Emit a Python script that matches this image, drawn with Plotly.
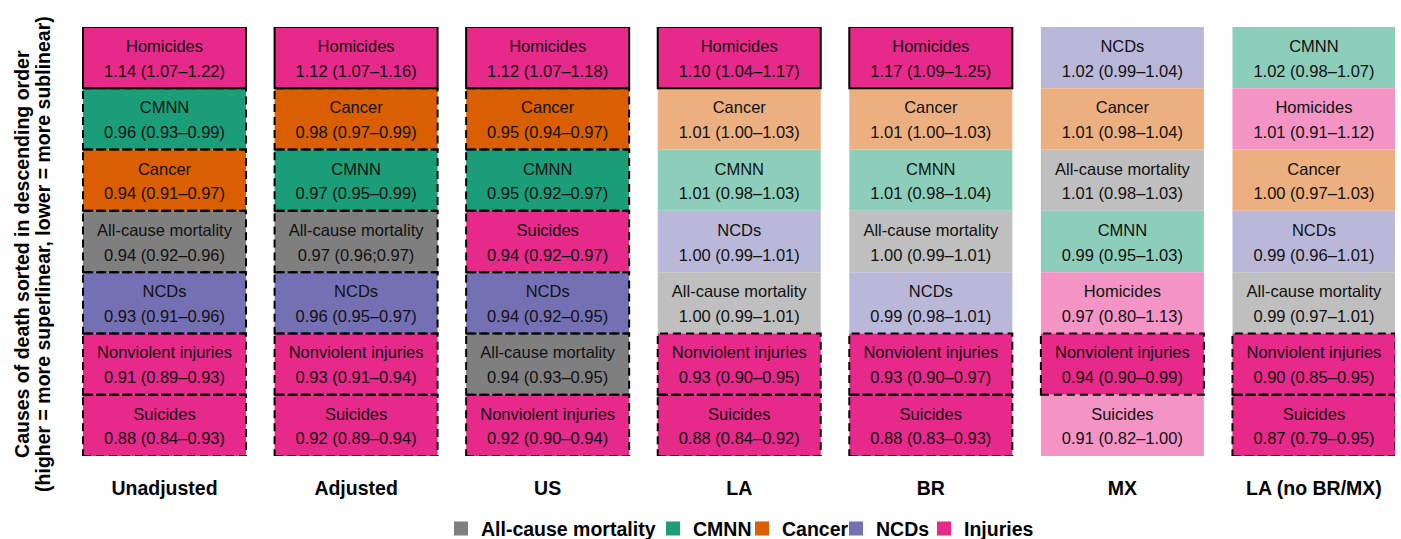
import plotly.graph_objects as go

# ---------------- data ----------------
columns = ["Unadjusted", "Adjusted", "US", "LA", "BR", "MX", "LA (no BR/MX)"]

unadjusted_causes = ["Homicides", "CMNN", "Cancer", "All-cause mortality", "NCDs", "Nonviolent injuries", "Suicides"]
unadjusted_est = [1.14, 0.96, 0.94, 0.94, 0.93, 0.91, 0.88]
unadjusted_lo = [1.07, 0.93, 0.91, 0.92, 0.91, 0.89, 0.84]
unadjusted_hi = [1.22, 0.99, 0.97, 0.96, 0.96, 0.93, 0.93]

adjusted_causes = ["Homicides", "Cancer", "CMNN", "All-cause mortality", "NCDs", "Nonviolent injuries", "Suicides"]
adjusted_est = [1.12, 0.98, 0.97, 0.97, 0.96, 0.93, 0.92]
adjusted_lo = [1.07, 0.97, 0.95, 0.96, 0.95, 0.91, 0.89]
adjusted_hi = [1.16, 0.99, 0.99, 0.97, 0.97, 0.94, 0.94]

us_causes = ["Homicides", "Cancer", "CMNN", "Suicides", "NCDs", "All-cause mortality", "Nonviolent injuries"]
us_est = [1.12, 0.95, 0.95, 0.94, 0.94, 0.94, 0.92]
us_lo = [1.07, 0.94, 0.92, 0.92, 0.92, 0.93, 0.90]
us_hi = [1.18, 0.97, 0.97, 0.97, 0.95, 0.95, 0.94]

la_causes = ["Homicides", "Cancer", "CMNN", "NCDs", "All-cause mortality", "Nonviolent injuries", "Suicides"]
la_est = [1.10, 1.01, 1.01, 1.00, 1.00, 0.93, 0.88]
la_lo = [1.04, 1.00, 0.98, 0.99, 0.99, 0.90, 0.84]
la_hi = [1.17, 1.03, 1.03, 1.01, 1.01, 0.95, 0.92]

br_causes = ["Homicides", "Cancer", "CMNN", "All-cause mortality", "NCDs", "Nonviolent injuries", "Suicides"]
br_est = [1.17, 1.01, 1.01, 1.00, 0.99, 0.93, 0.88]
br_lo = [1.09, 1.00, 0.98, 0.99, 0.98, 0.90, 0.83]
br_hi = [1.25, 1.03, 1.04, 1.01, 1.01, 0.97, 0.93]

mx_causes = ["NCDs", "Cancer", "All-cause mortality", "CMNN", "Homicides", "Nonviolent injuries", "Suicides"]
mx_est = [1.02, 1.01, 1.01, 0.99, 0.97, 0.94, 0.91]
mx_lo = [0.99, 0.98, 0.98, 0.95, 0.80, 0.90, 0.82]
mx_hi = [1.04, 1.04, 1.03, 1.03, 1.13, 0.99, 1.00]

lanobrmx_causes = ["CMNN", "Homicides", "Cancer", "NCDs", "All-cause mortality", "Nonviolent injuries", "Suicides"]
lanobrmx_est = [1.02, 1.01, 1.00, 0.99, 0.99, 0.90, 0.87]
lanobrmx_lo = [0.98, 0.91, 0.97, 0.96, 0.97, 0.85, 0.79]
lanobrmx_hi = [1.07, 1.12, 1.03, 1.01, 1.01, 0.95, 0.95]

# separator used in the CI label (the source has one ";" typo)
ci_sep_overrides = {("Adjusted", "All-cause mortality"): ";"}

cause_group = {
    "All-cause mortality": "All-cause mortality",
    "CMNN": "CMNN",
    "Cancer": "Cancer",
    "NCDs": "NCDs",
    "Homicides": "Injuries",
    "Suicides": "Injuries",
    "Nonviolent injuries": "Injuries",
}
groups = ["All-cause mortality", "CMNN", "Cancer", "NCDs", "Injuries"]

# ---------------- styles ----------------
dark_colors = {
    "All-cause mortality": "#7F7F7F",
    "CMNN": "#1B9E77",
    "Cancer": "#D95F02",
    "NCDs": "#7570B3",
    "Injuries": "#E7298A",
}
light_colors = {
    "All-cause mortality": "#BFBFBF",
    "CMNN": "#8DCEBB",
    "Cancer": "#ECAF80",
    "NCDs": "#BAB8D9",
    "Injuries": "#F394C4",
}
legend_widths = {
    "All-cause mortality": 167,
    "CMNN": 44,
    "Cancer": 49,
    "NCDs": 43,
    "Injuries": 75,
}
FONT = "Liberation Sans, Arial, sans-serif"
CELL_W = 0.851

column_data = [
    (unadjusted_causes, unadjusted_est, unadjusted_lo, unadjusted_hi),
    (adjusted_causes, adjusted_est, adjusted_lo, adjusted_hi),
    (us_causes, us_est, us_lo, us_hi),
    (la_causes, la_est, la_lo, la_hi),
    (br_causes, br_est, br_lo, br_hi),
    (mx_causes, mx_est, mx_lo, mx_hi),
    (lanobrmx_causes, lanobrmx_est, lanobrmx_lo, lanobrmx_hi),
]

bx, by, bbase, bcol = [], [], [], []
nx, ny, ntext = [], [], []
vx, vy, vtext = [], [], []
shapes = []

for ci, (col, (causes, est, lo, hi)) in enumerate(zip(columns, column_data)):
    n = len(causes)
    for r, cause in enumerate(causes):
        yp = n - 1 - r
        grp = cause_group[cause]
        if lo[r] > 1:
            sig = "super"
        elif hi[r] < 1:
            sig = "sub"
        else:
            sig = "ns"
        color = light_colors[grp] if sig == "ns" else dark_colors[grp]
        bx.append(ci)
        by.append(1)
        bbase.append(yp - 0.5)
        bcol.append(color)
        sep = ci_sep_overrides.get((col, cause), "\u2013")
        nx.append(ci)
        ny.append(yp + 0.16)
        ntext.append(cause)
        vx.append(ci)
        vy.append(yp - 0.245)
        vtext.append(f"{est[r]:.2f} ({lo[r]:.2f}{sep}{hi[r]:.2f})")
        if sig != "ns":
            shapes.append(dict(
                type="rect", xref="x", yref="y",
                x0=ci - CELL_W / 2, x1=ci + CELL_W / 2,
                y0=yp - 0.5, y1=yp + 0.5,
                line=dict(color="black", width=2,
                          dash="solid" if sig == "super" else "8px,5px"),
                fillcolor="rgba(0,0,0,0)", layer="above",
            ))

fig = go.Figure()
fig.add_trace(go.Bar(
    x=bx, y=by, base=bbase, width=CELL_W,
    marker=dict(color=bcol, line=dict(width=0)),
    showlegend=False, hoverinfo="skip",
))
for g in groups:
    fig.add_trace(go.Scatter(
        x=[None], y=[None], name=g, mode="markers",
        marker=dict(symbol="square", size=14, color=dark_colors[g], line=dict(width=0)),
        legendwidth=legend_widths[g], showlegend=True,
    ))
fig.add_trace(go.Scatter(
    x=nx, y=ny, text=ntext, mode="text", textposition="middle center",
    textfont=dict(family=FONT, size=16.5, color="#111111"),
    showlegend=False, hoverinfo="skip", cliponaxis=False,
))
fig.add_trace(go.Scatter(
    x=vx, y=vy, text=vtext, mode="text", textposition="middle center",
    textfont=dict(family=FONT, size=16.5, color="#111111"),
    showlegend=False, hoverinfo="skip", cliponaxis=False,
))

fig.update_layout(
    width=1401, height=539,
    margin=dict(l=70, r=6, t=27, b=83, autoexpand=False),
    paper_bgcolor="white", plot_bgcolor="white",
    barmode="overlay",
    shapes=shapes,
    font=dict(family=FONT, color="black"),
    xaxis=dict(
        range=[-0.4933, 6.423],
        tickmode="array", tickvals=list(range(len(columns))), ticktext=columns,
        tickfont=dict(family=FONT, size=19.5, color="black", weight="bold"),
        showgrid=False, zeroline=False, showline=False, ticks="",
        ticklabelstandoff=18, fixedrange=True, automargin=False,
    ),
    yaxis=dict(
        range=[-0.5, 6.5], showticklabels=False, showgrid=False,
        zeroline=False, showline=False, ticks="", fixedrange=True, automargin=False,
    ),
    legend=dict(
        orientation="h", x=0.280, xanchor="left", y=-0.17, yanchor="middle",
        font=dict(family=FONT, size=19.5, color="black", weight="bold"),
        traceorder="normal", bgcolor="rgba(0,0,0,0)",
    ),
    annotations=[
        dict(text="Causes of death sorted in descending order", textangle=-90,
             xref="paper", yref="paper", x=0, y=0.471, xanchor="center", yanchor="middle",
             xshift=-48, showarrow=False,
             font=dict(family=FONT, size=19.5, color="black", weight="bold")),
        dict(text="(higher = more superlinear, lower = more sublinear)", textangle=-90,
             xref="paper", yref="paper", x=0, y=0.471, xanchor="center", yanchor="middle",
             xshift=-27, showarrow=False,
             font=dict(family=FONT, size=19.5, color="black", weight="bold")),
    ],
)

fig.write_html(
    "out.html",
    config={"displayModeBar": False},
    post_script="document.body.style.margin='0';document.body.style.padding='0';"
                "document.documentElement.style.overflow='hidden';",
)
